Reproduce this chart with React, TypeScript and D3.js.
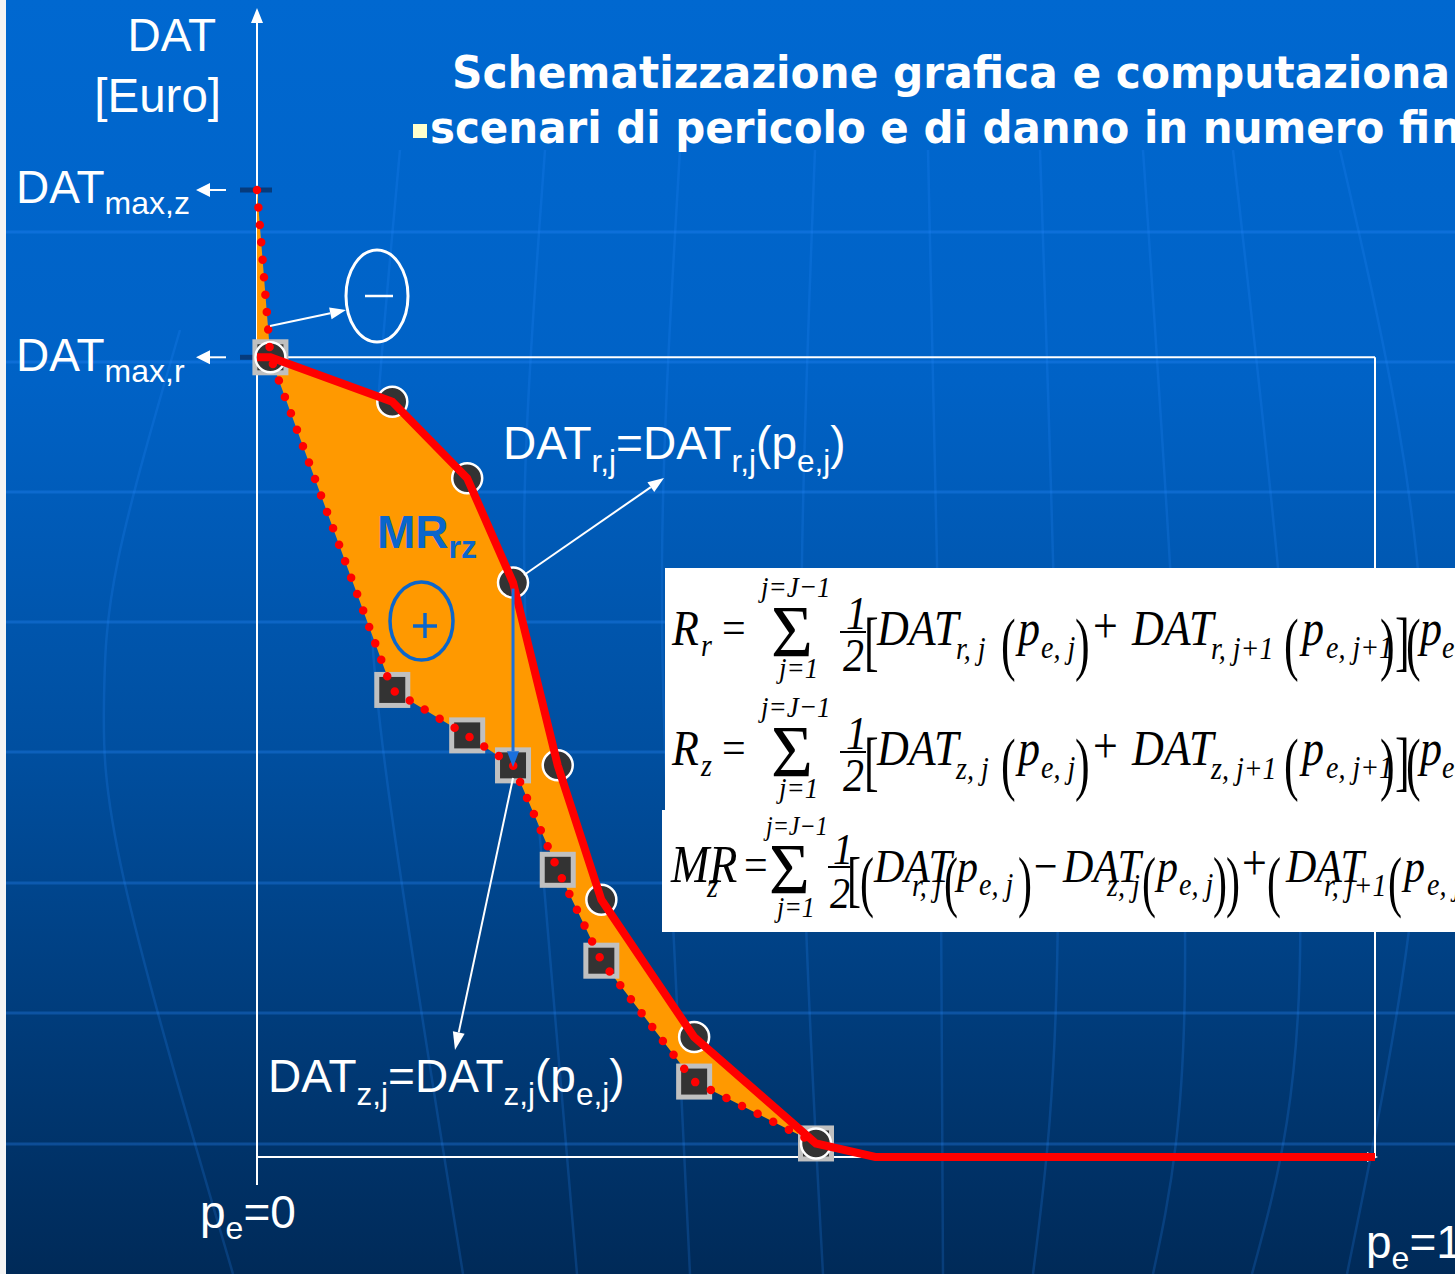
import React from 'react';
import * as d3 from 'd3';

const W = 1455;
const H = 1274;

// ---- data (p_e in [0,1], DAT in arbitrary units, DATmax,z = 100) ----
const PE = [0.012, 0.121, 0.188, 0.229, 0.269, 0.308, 0.391, 0.5];
const DAT_R = [82.7, 78.1, 70.2, 59.4, 40.5, 26.6, 12.4, 1.4];
const DAT_Z = [82.7, 48.3, 43.6, 40.5, 29.7, 20.3, 7.8, 1.4];
const DAT_MAX_Z = 100;
const DAT_MAX_R = 82.7;
const PE_R_ZERO = 0.553;
const PE_LABELS = ['0', '1'];

// decorative globe grid (background)
const GRID_Y = [232, 362, 492, 622, 752, 883, 1013, 1144];
const MERIDIANS: [number, number][][] = [
  [[180, 330], [118, 560], [104, 700], [124, 880], [233, 1274]],
  [[400, 150], [372, 500], [387, 780], [463, 1274]],
  [[545, 150], [525, 480], [535, 780], [577, 1274]],
  [[680, 150], [662, 560], [673, 923], [690, 1274]],
  [[815, 150], [802, 560], [806, 923], [823, 1274]],
  [[928, 150], [940, 700], [943, 1274]],
  [[1040, 150], [1058, 900], [1033, 1274]],
  [[1143, 150], [1185, 930], [1153, 1274]],
  [[1233, 150], [1300, 900], [1252, 1274]],
  [[1340, 150], [1425, 700], [1347, 1274]],
];

const SANS = "'Liberation Sans', Arial, sans-serif";
const SERIF = "'Liberation Serif', 'Times New Roman', serif";
const TITLE = "'DejaVu Sans', Verdana, sans-serif";

type P = { p: number; v: number };

function Arrow({ x1, y1, x2, y2, color = '#fff', w = 2, hl = 14, hw = 6 }: any) {
  const a = Math.atan2(y2 - y1, x2 - x1);
  const bx = x2 - hl * Math.cos(a);
  const by = y2 - hl * Math.sin(a);
  const pts = [
    [x2, y2],
    [bx + hw * Math.sin(a), by - hw * Math.cos(a)],
    [bx - hw * Math.sin(a), by + hw * Math.cos(a)],
  ];
  return (
    <g>
      <line x1={x1} y1={y1} x2={bx} y2={by} stroke={color} strokeWidth={w} />
      <polygon points={pts.map((q) => q.join(',')).join(' ')} fill={color} />
    </g>
  );
}

type Tok = { t: string; x: number; dy?: number; s?: number; it?: boolean; sy?: number };

const STRETCH = 1.13;

function Row({ y, toks, base = 44 }: { y: number; toks: Tok[]; base?: number }) {
  return (
    <g>
      {toks.map((k, i) => (
        <text
          key={i}
          transform={`translate(${k.x},${y + (k.dy ?? 0)}) scale(1,${(k.sy ?? 1) * STRETCH})`}
          fontSize={k.s ?? base}
          fontStyle={k.it === false ? 'normal' : 'italic'}
          fontFamily={SERIF}
          fill="#000"
        >
          {k.t}
        </text>
      ))}
    </g>
  );
}

const PAR = { it: false, sy: 1.42, dy: 22 } as const;
const BRK = { it: false, sy: 1.3, dy: 18 } as const;

function rowRZ(letter: string): Tok[] {
  return [
    { t: 'R', x: 672 },
    { t: letter, x: 701, dy: 11, s: 28 },
    { t: '=', x: 722, it: false, s: 42, dy: -2 },
    { t: 'Σ', x: 771, it: false, s: 72, sy: 0.9, dy: 12 },
    { t: 'j=J−1', x: 761, dy: -48, s: 27 },
    { t: 'j=1', x: 779, dy: 33, s: 27 },
    { t: '1', x: 846, dy: -16, s: 42 },
    { t: '2', x: 843, dy: 26, s: 42 },
    { t: '[', x: 864, ...BRK },
    { t: 'DAT', x: 877 },
    { t: `${letter}, j`, x: 956, dy: 14, s: 28 },
    { t: '(', x: 1001, ...PAR },
    { t: 'p', x: 1018 },
    { t: 'e, j', x: 1041, dy: 13, s: 28 },
    { t: ')', x: 1075, ...PAR },
    { t: '+', x: 1093, it: false, s: 44, dy: -2 },
    { t: 'DAT', x: 1132 },
    { t: `${letter}, j+1`, x: 1211, dy: 14, s: 28 },
    { t: '(', x: 1284, ...PAR },
    { t: 'p', x: 1302 },
    { t: 'e, j+1', x: 1326, dy: 13, s: 28 },
    { t: ')', x: 1380, ...PAR },
    { t: ']', x: 1395, ...BRK },
    { t: '(', x: 1406, ...PAR },
    { t: 'p', x: 1420 },
    { t: 'e', x: 1442, dy: 13, s: 28 },
  ];
}

const ROW3: Tok[] = [
  { t: 'MR', x: 671, s: 46 },
  { t: 'z', x: 707, dy: 15, s: 28 },
  { t: '=', x: 744, it: false, s: 42, dy: -2 },
  { t: 'Σ', x: 769, it: false, s: 70, sy: 0.9, dy: 11 },
  { t: 'j=J−1', x: 766, dy: -47, s: 24 },
  { t: 'j=1', x: 777, dy: 35, s: 26 },
  { t: '1', x: 833, dy: -18, s: 40 },
  { t: '2', x: 830, dy: 26, s: 40 },
  { t: '[', x: 847, ...BRK },
  { t: '(', x: 860, ...PAR },
  { t: 'DAT', x: 874 },
  { t: 'r, j', x: 912, dy: 14, s: 28 },
  { t: '(', x: 944, ...PAR },
  { t: 'p', x: 957 },
  { t: 'e, j', x: 979, dy: 13, s: 28 },
  { t: ')', x: 1018, ...PAR },
  { t: '−', x: 1034, it: false, s: 42 },
  { t: 'DAT', x: 1063 },
  { t: 'z, j', x: 1107, dy: 14, s: 28 },
  { t: '(', x: 1142, ...PAR },
  { t: 'p', x: 1157 },
  { t: 'e, j', x: 1179, dy: 13, s: 28 },
  { t: ')', x: 1213, ...PAR },
  { t: ')', x: 1226, ...PAR },
  { t: '+', x: 1242, it: false, s: 44, dy: -2 },
  { t: '(', x: 1267, ...PAR },
  { t: 'DAT', x: 1286 },
  { t: 'r, j+1', x: 1324, dy: 14, s: 28 },
  { t: '(', x: 1388, ...PAR },
  { t: 'p', x: 1404 },
  { t: 'e, j+', x: 1427, dy: 13, s: 28 },
];

export default function App() {
  const x = d3.scaleLinear().domain([0, 1]).range([257, 1375]);
  const y = d3.scaleLinear().domain([0, DAT_MAX_Z]).range([1157, 190]);

  const rPts: P[] = [
    { p: 0, v: DAT_MAX_R },
    ...PE.map((p, i) => ({ p, v: DAT_R[i] })),
    { p: PE_R_ZERO, v: 0 },
    { p: 1, v: 0 },
  ];
  const zPts: P[] = [{ p: 0, v: DAT_MAX_Z }, ...PE.map((p, i) => ({ p, v: DAT_Z[i] }))];
  const areaPts: P[] = [
    ...zPts,
    ...PE.map((p, i) => ({ p, v: DAT_R[i] })).reverse(),
    { p: 0, v: DAT_MAX_R },
  ];

  const line = d3
    .line<P>()
    .x((d) => x(d.p))
    .y((d) => y(d.v));
  const poly = d3
    .line<P>()
    .x((d) => x(d.p))
    .y((d) => y(d.v))
    .curve(d3.curveLinearClosed);
  const mer = d3.line<[number, number]>().curve(d3.curveNatural);

  const x0 = x(0);
  const yMaxZ = y(DAT_MAX_Z);
  const yMaxR = y(DAT_MAX_R);
  const yBase = y(0);

  return (
    <div style={{ position: 'absolute', left: 0, top: 0 }}>
      <svg width={W} height={H} style={{ display: 'block' }}>
        <defs>
          <linearGradient id="bg" x1="0" y1="0" x2="0" y2="1">
            <stop offset="0" stopColor="#0068d0" />
            <stop offset="0.3" stopColor="#0062c6" />
            <stop offset="0.6" stopColor="#004e9e" />
            <stop offset="1" stopColor="#002a58" />
          </linearGradient>
        </defs>
        <rect x={0} y={0} width={W} height={H} fill="#f4f4f4" />
        <rect x={6} y={0} width={W - 6} height={H} fill="url(#bg)" />
        {GRID_Y.map((gy) => (
          <line key={gy} x1={6} x2={W} y1={gy} y2={gy} stroke="#2a8cff" strokeOpacity={0.3} strokeWidth={3} />
        ))}
        {MERIDIANS.map((m, i) => (
          <path key={i} d={mer(m) || ''} fill="none" stroke="#2a8cff" strokeOpacity={0.2} strokeWidth={2.5} />
        ))}

        {/* Title */}
        <text x={452} y={88} fontFamily={TITLE} fontWeight="bold" fontSize={44} fill="#fff" textLength={998} lengthAdjust="spacingAndGlyphs">
          Schematizzazione grafica e computaziona
        </text>
        <text x={1453} y={88} fontFamily={TITLE} fontWeight="bold" fontSize={44} fill="#fff">
          le
        </text>
        <rect x={413} y={124} width={14} height={14} fill="#ffffcc" />
        <text x={430} y={143} fontFamily={TITLE} fontWeight="bold" fontSize={44} fill="#fff" textLength={1000} lengthAdjust="spacingAndGlyphs">
          scenari di pericolo e di danno in numero fi
        </text>
        <text x={1431} y={143} fontFamily={TITLE} fontWeight="bold" fontSize={44} fill="#fff">
          nito
        </text>

        {/* axes and frame */}
        <Arrow x1={x0} y1={1185} x2={x0} y2={8} hl={15} hw={6} w={2} />
        <Arrow x1={x0} y1={yBase} x2={x(1) + 3} y2={yBase} hl={11} hw={5} w={2} />
        <line x1={x0} y1={yMaxR} x2={x(1)} y2={yMaxR} stroke="#fff" strokeWidth={2} />
        <line x1={x(1)} y1={yMaxR} x2={x(1)} y2={yBase} stroke="#fff" strokeWidth={2} />
        <line x1={240} y1={yMaxZ} x2={272} y2={yMaxZ} stroke="#063b7c" strokeWidth={5} />
        <line x1={240} y1={yMaxR} x2={258} y2={yMaxR} stroke="#063b7c" strokeWidth={5} />

        {/* axis labels */}
        <g fontFamily={SANS} fill="#fff">
          <text x={216} y={51} fontSize={46} textAnchor="end">DAT</text>
          <text x={221} y={112} fontSize={47.5} textAnchor="end">[Euro]</text>
          <text x={16} y={yMaxZ + 13} fontSize={46}>
            DAT<tspan dy={11} fontSize={32}>max,z</tspan>
          </text>
          <text x={16} y={yMaxR + 14} fontSize={46}>
            DAT<tspan dy={11} fontSize={32}>max,r</tspan>
          </text>
          <text x={200} y={1228} fontSize={46}>
            p<tspan dy={11} fontSize={32}>e</tspan>
            <tspan dy={-11}>={PE_LABELS[0]}</tspan>
          </text>
          <text x={1366} y={1258} fontSize={46}>
            p<tspan dy={11} fontSize={32}>e</tspan>
            <tspan dy={-11}>={PE_LABELS[1]}</tspan>
          </text>
        </g>
        <Arrow x1={226} y1={yMaxZ} x2={196} y2={yMaxZ} hl={14} hw={7} w={2} />
        <Arrow x1={226} y1={yMaxR} x2={196} y2={yMaxR} hl={14} hw={7} w={2} />

        {/* filled difference region */}
        <path d={poly(areaPts) || ''} fill="#ff9900" />

        {/* scenario markers */}
        {PE.map((p, i) => (
          <rect key={'s' + i} x={x(p) - 15.5} y={y(DAT_Z[i]) - 15.5} width={31} height={31} fill="#333" stroke="#c0c0c0" strokeWidth={5} />
        ))}
        {PE.map((p, i) => (
          <circle key={'c' + i} cx={x(p)} cy={y(DAT_R[i])} r={15} fill="#333" stroke="#fff" strokeWidth={2.5} />
        ))}

        {/* dotted z curve */}
        <path d={line(zPts) || ''} fill="none" stroke="#ff0000" strokeWidth={8.5} strokeDasharray="0 17.5" strokeLinecap="round" />
        {/* solid r curve */}
        <path d={line(rPts) || ''} fill="none" stroke="#ff0000" strokeWidth={8} strokeLinejoin="miter" />

        {/* annotations */}
        <ellipse cx={377} cy={296} rx={31} ry={46} fill="none" stroke="#fff" strokeWidth={3} />
        <line x1={365} x2={393} y1={296} y2={296} stroke="#fff" strokeWidth={2.5} />
        <Arrow x1={270} y1={326} x2={346} y2={310} hl={16} hw={6} w={2} />

        <ellipse cx={421.5} cy={621} rx={31.5} ry={39} fill="none" stroke="#0a66cc" strokeWidth={3.5} />
        <line x1={413} x2={437} y1={626} y2={626} stroke="#0a66cc" strokeWidth={3.5} />
        <line x1={425} x2={425} y1={613} y2={638} stroke="#0a66cc" strokeWidth={3.5} />

        <text x={377} y={548} fontFamily={SANS} fontWeight="bold" fontSize={46} fill="#0a66cc">
          MR<tspan dy={10} fontSize={32}>rz</tspan>
        </text>

        <Arrow x1={x(PE[3])} y1={y(DAT_R[3]) + 6} x2={x(PE[3])} y2={y(DAT_Z[3]) + 2} color="#1a70dc" w={3} hl={16} hw={6} />

        <Arrow x1={524} y1={575} x2={664} y2={478} hl={16} hw={6} w={2} />
        <Arrow x1={513} y1={778} x2={455} y2={1050} hl={18} hw={6} w={2} />

        <g fontFamily={SANS} fill="#fff" fontSize={46}>
          <text x={503} y={459}>
            DAT<tspan dy={13} fontSize={31.5}>r,j</tspan>
            <tspan dy={-13}>=DAT</tspan>
            <tspan dy={13} fontSize={31.5}>r,j</tspan>
            <tspan dy={-13}>(p</tspan>
            <tspan dy={13} fontSize={31.5}>e,j</tspan>
            <tspan dy={-13}>)</tspan>
          </text>
          <text x={268} y={1092}>
            DAT<tspan dy={13} fontSize={31.5}>z,j</tspan>
            <tspan dy={-13}>=DAT</tspan>
            <tspan dy={13} fontSize={31.5}>z,j</tspan>
            <tspan dy={-13}>(p</tspan>
            <tspan dy={13} fontSize={31.5}>e,j</tspan>
            <tspan dy={-13}>)</tspan>
          </text>
        </g>

        {/* formula panel */}
        <rect x={665} y={568} width={W - 665} height={244} fill="#fff" />
        <rect x={662} y={810} width={W - 662} height={122} fill="#fff" />
        <Row y={645} toks={rowRZ('r')} />
        <line x1={840} x2={866} y1={632} y2={632} stroke="#000" strokeWidth={2} />
        <Row y={765} toks={rowRZ('z')} />
        <line x1={840} x2={866} y1={752} y2={752} stroke="#000" strokeWidth={2} />
        <Row y={882} toks={ROW3} base={42} />
        <line x1={828} x2={850} y1={867} y2={867} stroke="#000" strokeWidth={2} />
      </svg>
    </div>
  );
}
